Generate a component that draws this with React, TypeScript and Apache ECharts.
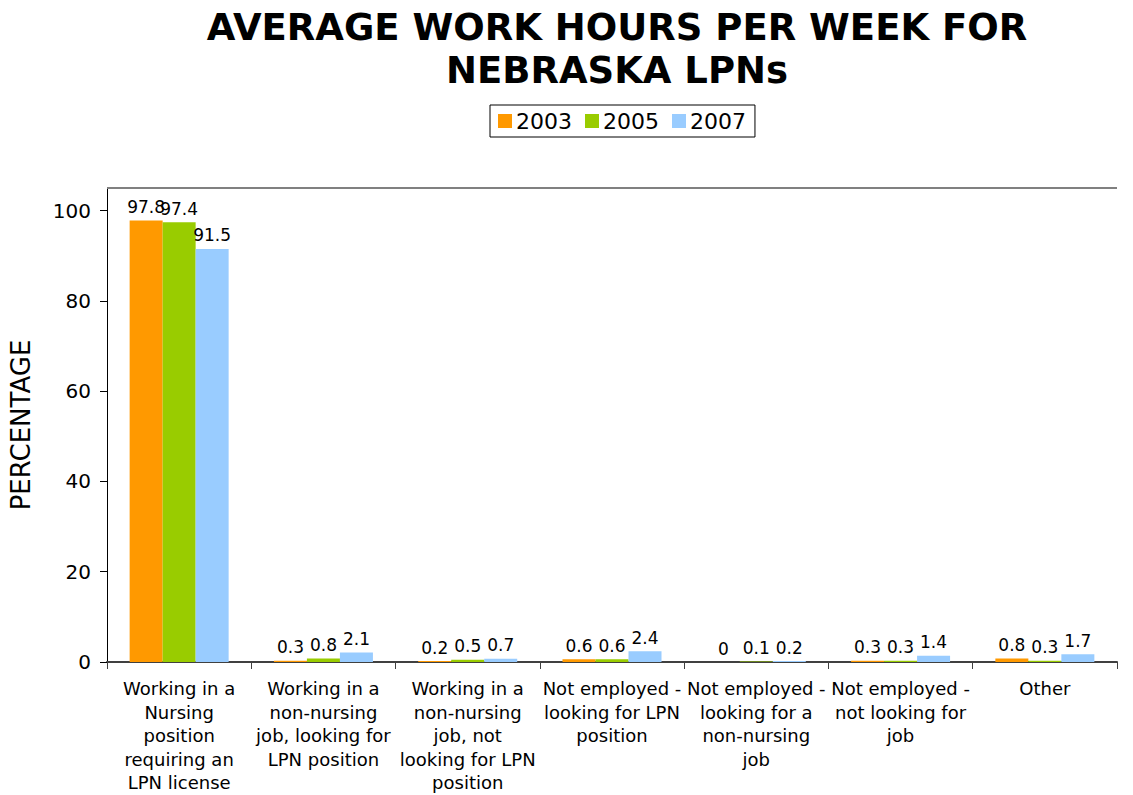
import React, { useEffect, useRef } from "react";
import * as echarts from "echarts";

const categories = [
  "Working in a\nNursing\nposition\nrequiring an\nLPN license",
  "Working in a\nnon-nursing\njob, looking for\nLPN position",
  "Working in a\nnon-nursing\njob, not\nlooking for LPN\nposition",
  "Not employed -\nlooking for LPN\nposition",
  "Not employed -\nlooking for a\nnon-nursing\njob",
  "Not employed -\nnot looking for\njob",
  "Other",
];
const seriesNames = ["2003", "2005", "2007"];
const values2003 = [97.8, 0.3, 0.2, 0.6, 0, 0.3, 0.8];
const values2005 = [97.4, 0.8, 0.5, 0.6, 0.1, 0.3, 0.3];
const values2007 = [91.5, 2.1, 0.7, 2.4, 0.2, 1.4, 1.7];
const yTicks = [0, 20, 40, 60, 80, 100];
const yMax = 105;
const colors = ["#FF9900", "#99CC00", "#99CCFF"];

const FONT = "DejaVu Sans, Verdana, sans-serif";

export default function App() {
  const ref = useRef<HTMLDivElement>(null);
  useEffect(() => {
    document.body.style.margin = "0";
    const chart = echarts.init(ref.current!, null, { renderer: "svg" });
    const allValues = [values2003, values2005, values2007];
    chart.setOption({
      animation: false,
      backgroundColor: "#ffffff",
      textStyle: { fontFamily: FONT },
      title: {
        text: "AVERAGE WORK HOURS PER WEEK FOR\nNEBRASKA LPNs",
        left: 612,
        top: 1,
        textAlign: "center",
        textStyle: {
          fontFamily: FONT,
          fontSize: 37,
          fontWeight: "bold",
          color: "#000",
          lineHeight: 43,
        },
      },
      legend: {
        data: seriesNames,
        left: 490,
        top: 105,
        itemWidth: 14,
        itemHeight: 14,
        itemGap: 13,
        padding: [5, 9, 5, 8],
        borderColor: "#000",
        borderWidth: 1,
        icon: "rect",
        textStyle: { fontFamily: FONT, fontSize: 22, color: "#000", padding: [0, 0, 0, -1] },
      },
      grid: { left: 105, right: 16, top: 188, bottom: 133, containLabel: false },
      xAxis: [
        {
          type: "category",
          data: categories,
          position: "bottom",
          axisLine: { lineStyle: { color: "#404040", width: 2 } },
          axisTick: { show: true, length: 7, lineStyle: { color: "#404040" } },
          axisLabel: {
            interval: 0,
            margin: 15,
            fontFamily: FONT,
            fontSize: 18,
            lineHeight: 23.5,
            color: "#000",
            align: "center",
          },
        },
      ],
      yAxis: [
        {
          type: "value",
          min: 0,
          max: yMax,
          interval: 20,
          name: "PERCENTAGE",
          nameLocation: "middle",
          nameRotate: 90,
          nameGap: 73,
          nameTextStyle: { fontFamily: FONT, fontSize: 26, color: "#000" },
          axisLine: { show: true, lineStyle: { color: "#000", width: 1 } },
          axisTick: { show: true, length: 7, lineStyle: { color: "#000" }, customValues: yTicks },
          axisLabel: {
            fontFamily: FONT,
            fontSize: 20,
            color: "#000",
            margin: 16,
            customValues: yTicks,
          },
          splitLine: { show: false },
        },
      ],
      series: seriesNames.map((name, i) => ({
        name,
        type: "bar",
        data: allValues[i],
        barWidth: 33,
        barGap: "0%",
        itemStyle: { color: colors[i] },
        label: {
          show: true,
          position: "top",
          distance: 5,
          fontFamily: FONT,
          fontSize: 17,
          color: "#000",
        },
        markLine:
          i === 0
            ? {
                silent: true,
                symbol: "none",
                label: { show: false },
                lineStyle: { color: "#808080", width: 2, type: "solid" },
                data: [{ yAxis: yMax }],
              }
            : undefined,
      })),
    });
    return () => chart.dispose();
  }, []);
  return <div ref={ref} style={{ width: 1133, height: 795 }} />;
}
